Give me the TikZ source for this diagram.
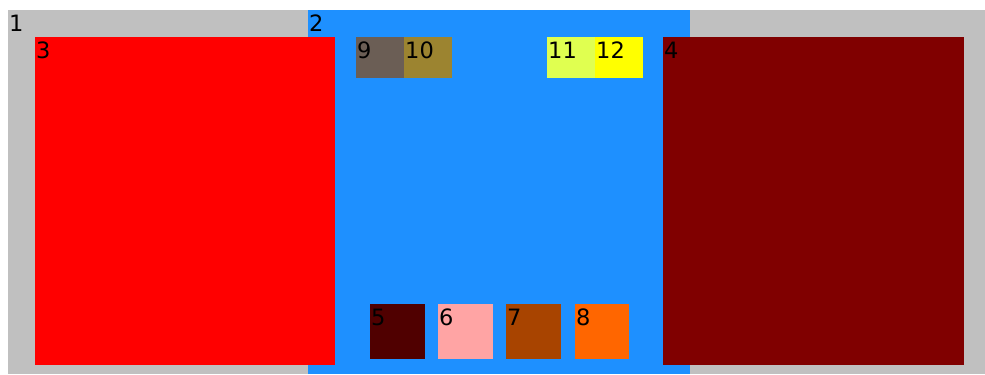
\documentclass[tikz,border=0pt]{standalone}
\usepackage{fontspec}
\setmainfont{DejaVu Sans}
\definecolor{panelgray}{RGB}{192,192,192}
\definecolor{panelblue}{RGB}{30,144,255}
\definecolor{boxred}{RGB}{255,0,0}
\definecolor{boxmaroon}{RGB}{128,0,0}
\definecolor{boxdark}{RGB}{80,0,0}
\definecolor{boxpink}{RGB}{255,164,164}
\definecolor{boxrust}{RGB}{168,68,0}
\definecolor{boxorange}{RGB}{255,102,0}
\definecolor{boxtaupe}{RGB}{107,94,85}
\definecolor{boxolive}{RGB}{156,132,48}
\definecolor{boxlime}{RGB}{224,255,80}
\definecolor{boxyellow}{RGB}{255,255,0}
\tikzset{area/.style={rectangle,draw=none,anchor=north west,inner sep=0pt,outer sep=0pt},
 num/.style={anchor=north west,inner sep=0pt,xshift=1bp,yshift=-4.5bp,font=\fontsize{22.5bp}{22.5bp}\selectfont}}
\begin{document}
\begin{tikzpicture}[x=1bp,y=-1bp]
\useasboundingbox (0,0) rectangle (985,374);
\node[area,fill=panelgray,minimum width=977bp,minimum height=364bp] (a1) at (8,10) {};
\node[num] at (a1.north west) {1};
\node[area,fill=panelblue,minimum width=382bp,minimum height=364bp] (a2) at (308,10) {};
\node[num] at (a2.north west) {2};
\node[area,fill=boxred,minimum width=300bp,minimum height=328bp] (a3) at (35,37) {};
\node[num] at (a3.north west) {3};
\node[area,fill=boxmaroon,minimum width=301bp,minimum height=328bp] (a4) at (663,37) {};
\node[num] at (a4.north west) {4};
\node[area,fill=boxdark,minimum width=55bp,minimum height=55bp] (a5) at (370,304) {};
\node[num] at (a5.north west) {5};
\node[area,fill=boxpink,minimum width=55bp,minimum height=55bp] (a6) at (438,304) {};
\node[num] at (a6.north west) {6};
\node[area,fill=boxrust,minimum width=55bp,minimum height=55bp] (a7) at (506,304) {};
\node[num] at (a7.north west) {7};
\node[area,fill=boxorange,minimum width=54bp,minimum height=55bp] (a8) at (575,304) {};
\node[num] at (a8.north west) {8};
\node[area,fill=boxtaupe,minimum width=48bp,minimum height=41bp] (a9) at (356,37) {};
\node[num] at (a9.north west) {9};
\node[area,fill=boxolive,minimum width=48bp,minimum height=41bp] (a10) at (404,37) {};
\node[num] at (a10.north west) {10};
\node[area,fill=boxlime,minimum width=48bp,minimum height=41bp] (a11) at (547,37) {};
\node[num] at (a11.north west) {11};
\node[area,fill=boxyellow,minimum width=48bp,minimum height=41bp] (a12) at (595,37) {};
\node[num] at (a12.north west) {12};
\end{tikzpicture}
\end{document}
